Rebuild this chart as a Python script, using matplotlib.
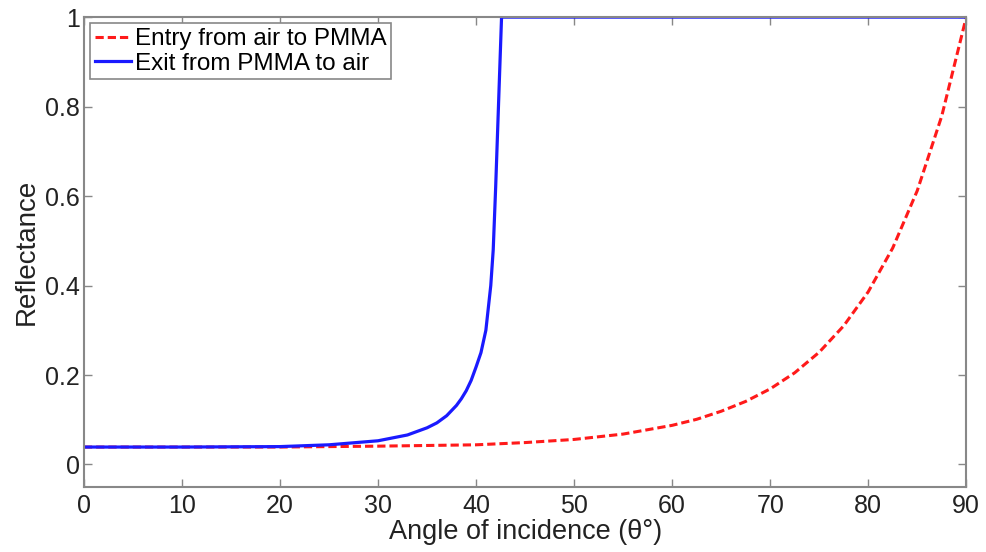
import matplotlib
matplotlib.use("Agg")
import matplotlib.pyplot as plt

plt.rcParams['font.family'] = ['Liberation Sans', 'DejaVu Sans']

# reflectance, air -> PMMA
entry_angle = [0, 10, 20, 30, 40, 45, 50, 55, 60, 62.5, 65, 67.5, 70, 72.5,
               75, 77.5, 80, 82.5, 85, 87.5, 90]
entry_refl = [0.039, 0.039, 0.039, 0.041, 0.044, 0.049, 0.056, 0.068, 0.0875,
              0.101, 0.119, 0.141, 0.169, 0.205, 0.251, 0.310, 0.386, 0.484,
              0.612, 0.779, 1.0]

# reflectance, PMMA -> air (total internal reflection past ~42 deg)
exit_angle = [0, 10, 20, 25, 30, 33, 35, 36, 37, 38, 38.5, 39, 39.5, 40, 40.5,
              41, 41.5, 41.75, 42.0, 42.6, 90]
exit_refl = [0.039, 0.039, 0.040, 0.044, 0.053, 0.066, 0.082, 0.093, 0.109,
             0.132, 0.147, 0.165, 0.188, 0.218, 0.25, 0.30, 0.40, 0.48, 0.62,
             1.0, 1.0]

x_ticks = [0, 10, 20, 30, 40, 50, 60, 70, 80, 90]
y_ticks = [0, 0.2, 0.4, 0.6, 0.8, 1]
y_tick_labels = ['0', '0.2', '0.4', '0.6', '0.8', '1']

fig = plt.figure(figsize=(9.87, 5.52), dpi=100)
ax = fig.add_axes([0.085, 0.118, 0.894, 0.851])

ax.plot(entry_angle, entry_refl, color='#ff1a1a', linestyle=(0, (2.7, 1.3)),
        linewidth=2.2, label='Entry from air to PMMA')
ax.plot(exit_angle, exit_refl, color='#1a1aff', linewidth=2.3,
        label='Exit from PMMA to air')

ax.set_xlim(0, 90)
ax.set_ylim(-0.05, 1)
ax.set_xticks(x_ticks)
ax.set_yticks(y_ticks)
ax.set_yticklabels(y_tick_labels)
ax.tick_params(direction='in', length=6, width=1, color='#888888',
               labelsize=18, labelcolor='#222222', top=True, right=True)
ax.tick_params(axis='x', pad=5)
ax.tick_params(axis='y', pad=3)
for s in ax.spines.values():
    s.set_color('#888888')
    s.set_linewidth(1.5)

ax.set_xlabel('Angle of incidence (θ°)', fontsize=19.5, color='#222222', labelpad=1)
ax.set_ylabel('Reflectance', fontsize=20, color='#222222', labelpad=4)

leg = ax.legend(loc='upper left', fontsize=17.5, handlelength=1.5, handletextpad=0.15,
                borderpad=0.2, labelspacing=0.1, borderaxespad=0.25,
                fancybox=False, framealpha=1)
leg.get_frame().set_edgecolor('#888888')
leg.get_frame().set_linewidth(1.2)

fig.savefig('out.png', dpi=100)
